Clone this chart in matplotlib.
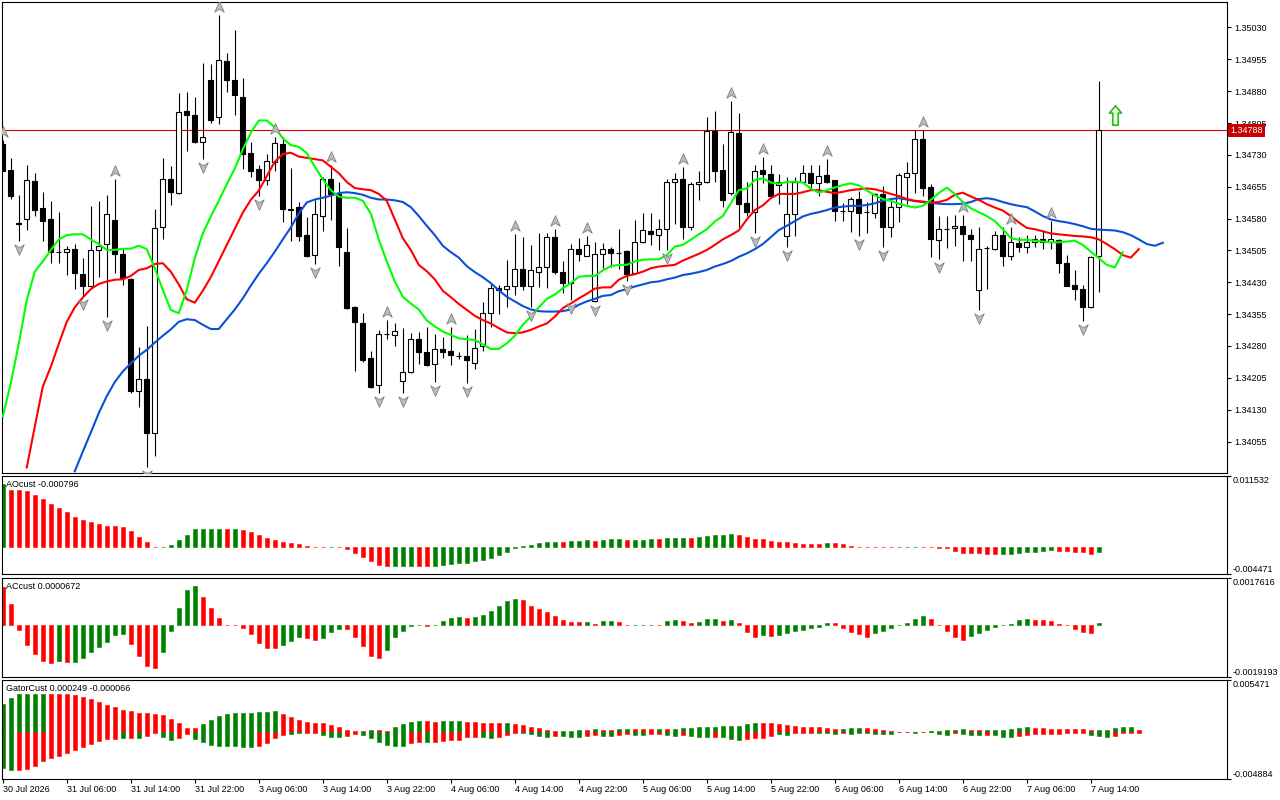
import numpy as np
import matplotlib
matplotlib.use('Agg')
import matplotlib.pyplot as plt
from matplotlib.path import Path
from matplotlib import transforms

plt.rcParams['font.family'] = ['Liberation Sans', 'DejaVu Sans']
plt.rcParams['font.size'] = 6.5

# ---- H1 candles, 30 Jul 22:00 -> 7 Aug 15:00 ----
opens = [1.34756, 1.34695, 1.34569, 1.34580, 1.34668, 1.34604, 1.34578, 1.34502, 1.34501, 1.34508,
         1.34449, 1.34422, 1.34505, 1.34520, 1.34577, 1.34496, 1.34438, 1.34175, 1.34203, 1.34075,
         1.34560, 1.34673, 1.34641, 1.34833, 1.34823, 1.34760, 1.34907, 1.34819, 1.34951, 1.34907,
         1.34866, 1.34734, 1.34696, 1.34670, 1.34714, 1.34756, 1.34602, 1.34607, 1.34542, 1.34495,
         1.34587, 1.34673, 1.34637, 1.34501, 1.34372, 1.34334, 1.34251, 1.34188, 1.34308, 1.34305,
         1.34198, 1.34218, 1.34296, 1.34265, 1.34237, 1.34273, 1.34268, 1.34257, 1.34256, 1.34240,
         1.34279, 1.34357, 1.34416, 1.34414, 1.34422, 1.34461, 1.34422, 1.34454, 1.34467, 1.34536,
         1.34455, 1.34429, 1.34509, 1.34493, 1.34385, 1.34496, 1.34508, 1.34500, 1.34504, 1.34451,
         1.34526, 1.34551, 1.34542, 1.34555, 1.34665, 1.34673, 1.34560, 1.34661, 1.34665, 1.34787,
         1.34695, 1.34640, 1.34782, 1.34616, 1.34595, 1.34695, 1.34685, 1.34658, 1.34540, 1.34590,
         1.34665, 1.34687, 1.34663, 1.34683, 1.34671, 1.34598, 1.34597, 1.34626, 1.34595, 1.34593,
         1.34637, 1.34559, 1.34608, 1.34679, 1.34688, 1.34767, 1.34654, 1.34530, 1.34555, 1.34557,
         1.34563, 1.34542, 1.34411, 1.34510, 1.34508, 1.34542, 1.34492, 1.34522, 1.34514, 1.34524,
         1.34531, 1.34524, 1.34530, 1.34475, 1.34424, 1.34414, 1.34371, 1.34491]
highs = [1.34765, 1.34722, 1.34636, 1.34706, 1.34688, 1.34642, 1.34622, 1.34596, 1.34516, 1.34520,
         1.34488, 1.34610, 1.34622, 1.34636, 1.34673, 1.34508, 1.34440, 1.34277, 1.34326, 1.34603,
         1.34723, 1.34704, 1.34876, 1.34878, 1.34866, 1.34947, 1.34944, 1.35060, 1.34971, 1.35024,
         1.34911, 1.34760, 1.34707, 1.34732, 1.34772, 1.34773, 1.34699, 1.34620, 1.34583, 1.34624,
         1.34677, 1.34706, 1.34665, 1.34557, 1.34373, 1.34357, 1.34268, 1.34317, 1.34341, 1.34334,
         1.34322, 1.34310, 1.34312, 1.34324, 1.34308, 1.34302, 1.34324, 1.34265, 1.34306, 1.34320,
         1.34383, 1.34428, 1.34424, 1.34483, 1.34543, 1.34536, 1.34518, 1.34547, 1.34547, 1.34555,
         1.34480, 1.34520, 1.34534, 1.34538, 1.34524, 1.34522, 1.34514, 1.34555, 1.34505, 1.34577,
         1.34593, 1.34593, 1.34578, 1.34673, 1.34687, 1.34701, 1.34667, 1.34693, 1.34819, 1.34834,
         1.34756, 1.34857, 1.34828, 1.34667, 1.34705, 1.34726, 1.34705, 1.34685, 1.34679, 1.34679,
         1.34706, 1.34706, 1.34706, 1.34720, 1.34672, 1.34616, 1.34630, 1.34645, 1.34620, 1.34641,
         1.34657, 1.34626, 1.34687, 1.34713, 1.34789, 1.34789, 1.34661, 1.34585, 1.34585, 1.34589,
         1.34589, 1.34555, 1.34559, 1.34516, 1.34551, 1.34561, 1.34559, 1.34536, 1.34542, 1.34542,
         1.34553, 1.34575, 1.34531, 1.34495, 1.34459, 1.34424, 1.34493, 1.34903]
lows = [1.34691, 1.34626, 1.34528, 1.34553, 1.34587, 1.34528, 1.34476, 1.34475, 1.34447, 1.34415,
        1.34398, 1.34420, 1.34443, 1.34349, 1.34453, 1.34424, 1.34169, 1.34136, 1.33996, 1.34020,
        1.34533, 1.34611, 1.34639, 1.34740, 1.34759, 1.34721, 1.34805, 1.34803, 1.34877, 1.34823,
        1.34696, 1.34679, 1.34632, 1.34659, 1.34691, 1.34571, 1.34527, 1.34528, 1.34489, 1.34473,
        1.34550, 1.34577, 1.34469, 1.34367, 1.34222, 1.34243, 1.34182, 1.34169, 1.34297, 1.34279,
        1.34169, 1.34217, 1.34238, 1.34232, 1.34196, 1.34251, 1.34235, 1.34249, 1.34192, 1.34225,
        1.34268, 1.34324, 1.34356, 1.34371, 1.34399, 1.34412, 1.34371, 1.34418, 1.34416, 1.34450,
        1.34404, 1.34389, 1.34479, 1.34492, 1.34384, 1.34463, 1.34467, 1.34461, 1.34433, 1.34449,
        1.34523, 1.34518, 1.34506, 1.34506, 1.34567, 1.34531, 1.34553, 1.34624, 1.34664, 1.34665,
        1.34608, 1.34636, 1.34561, 1.34587, 1.34547, 1.34663, 1.34631, 1.34614, 1.34514, 1.34538,
        1.34663, 1.34652, 1.34632, 1.34663, 1.34575, 1.34575, 1.34548, 1.34540, 1.34546, 1.34581,
        1.34514, 1.34536, 1.34573, 1.34615, 1.34641, 1.34632, 1.34489, 1.34484, 1.34510, 1.34516,
        1.34481, 1.34479, 1.34364, 1.34414, 1.34507, 1.34469, 1.34483, 1.34502, 1.34498, 1.34514,
        1.34508, 1.34508, 1.34451, 1.34421, 1.34389, 1.34338, 1.34369, 1.34408]
closes = [1.34693, 1.34634, 1.34568, 1.34670, 1.34601, 1.34575, 1.34501, 1.34502, 1.34508, 1.34451,
          1.34422, 1.34505, 1.34516, 1.34590, 1.34496, 1.34440, 1.34175, 1.34202, 1.34076, 1.34557,
          1.34673, 1.34642, 1.34830, 1.34823, 1.34761, 1.34772, 1.34813, 1.34953, 1.34906, 1.34870,
          1.34731, 1.34693, 1.34670, 1.34715, 1.34757, 1.34602, 1.34601, 1.34540, 1.34492, 1.34590,
          1.34673, 1.34637, 1.34514, 1.34370, 1.34336, 1.34247, 1.34184, 1.34308, 1.34308, 1.34316,
          1.34218, 1.34296, 1.34265, 1.34235, 1.34272, 1.34267, 1.34258, 1.34257, 1.34246, 1.34276,
          1.34357, 1.34416, 1.34412, 1.34422, 1.34461, 1.34422, 1.34458, 1.34467, 1.34536, 1.34455,
          1.34429, 1.34508, 1.34496, 1.34517, 1.34496, 1.34508, 1.34498, 1.34500, 1.34449, 1.34524,
          1.34553, 1.34543, 1.34555, 1.34666, 1.34673, 1.34559, 1.34661, 1.34666, 1.34787, 1.34693,
          1.34623, 1.34783, 1.34614, 1.34595, 1.34693, 1.34685, 1.34632, 1.34667, 1.34590, 1.34666,
          1.34687, 1.34663, 1.34681, 1.34667, 1.34597, 1.34598, 1.34626, 1.34593, 1.34595, 1.34637,
          1.34559, 1.34607, 1.34683, 1.34687, 1.34767, 1.34653, 1.34531, 1.34555, 1.34555, 1.34563,
          1.34543, 1.34533, 1.34508, 1.34510, 1.34542, 1.34492, 1.34524, 1.34514, 1.34524, 1.34531,
          1.34524, 1.34531, 1.34475, 1.34422, 1.34414, 1.34371, 1.34489, 1.34788]

date_labels = ["30 Jul 2026", "31 Jul 06:00", "31 Jul 14:00", "31 Jul 22:00", "3 Aug 06:00",
               "3 Aug 14:00", "3 Aug 22:00", "4 Aug 06:00", "4 Aug 14:00", "4 Aug 22:00",
               "5 Aug 06:00", "5 Aug 14:00", "5 Aug 22:00", "6 Aug 06:00", "6 Aug 14:00",
               "6 Aug 22:00", "7 Aug 06:00", "7 Aug 14:00"]
bars_per_label = 8

# ---- alligator lines (already shifted forward) ----
lips = [1.34114, 1.34192, 1.34286, 1.34388, 1.34455, 1.34479, 1.34506, 1.34531, 1.34541, 1.34543,
        1.34543, 1.34531, 1.34520, 1.34506, 1.34506, 1.34509, 1.34509, 1.34516, 1.34508, 1.34463,
        1.34412, 1.34365, 1.34357, 1.34412, 1.34487, 1.34545, 1.34585, 1.34622, 1.34661, 1.34698,
        1.34743, 1.34782, 1.34811, 1.34811, 1.34795, 1.34769, 1.34753, 1.34749, 1.34734, 1.34702,
        1.34673, 1.34647, 1.34632, 1.34629, 1.34629, 1.34622, 1.34592, 1.34531, 1.34479, 1.34432,
        1.34396, 1.34380, 1.34366, 1.34340, 1.34326, 1.34314, 1.34306, 1.34298, 1.34296, 1.34294,
        1.34284, 1.34273, 1.34273, 1.34286, 1.34304, 1.34330, 1.34349, 1.34371, 1.34391, 1.34401,
        1.34416, 1.34428, 1.34443, 1.34445, 1.34445, 1.34458, 1.34468, 1.34471, 1.34471, 1.34479,
        1.34483, 1.34484, 1.34484, 1.34494, 1.34514, 1.34518, 1.34530, 1.34543, 1.34555, 1.34573,
        1.34586, 1.34616, 1.34647, 1.34651, 1.34671, 1.34675, 1.34665, 1.34662, 1.34666, 1.34667,
        1.34665, 1.34651, 1.34641, 1.34647, 1.34653, 1.34659, 1.34663, 1.34658, 1.34646, 1.34635,
        1.34626, 1.34622, 1.34615, 1.34610, 1.34606, 1.34610, 1.34624, 1.34640, 1.34653, 1.34638,
        1.34619, 1.34604, 1.34595, 1.34586, 1.34574, 1.34555, 1.34534, 1.34530, 1.34530, 1.34528,
        1.34526, 1.34524, 1.34524, 1.34526, 1.34528, 1.34518, 1.34502, 1.34487, 1.34471, 1.34465,
        1.34501]
teeth_start = 3
teeth = [1.33994, 1.34090, 1.34184, 1.34231, 1.34285, 1.34337, 1.34371, 1.34394, 1.34414, 1.34426,
         1.34432, 1.34436, 1.34437, 1.34445, 1.34459, 1.34463, 1.34473, 1.34475, 1.34455, 1.34425,
         1.34390, 1.34382, 1.34410, 1.34442, 1.34480, 1.34518, 1.34556, 1.34594, 1.34624, 1.34646,
         1.34680, 1.34714, 1.34732, 1.34735, 1.34726, 1.34723, 1.34720, 1.34717, 1.34702, 1.34687,
         1.34666, 1.34652, 1.34649, 1.34647, 1.34638, 1.34622, 1.34578, 1.34534, 1.34506, 1.34471,
         1.34456, 1.34437, 1.34410, 1.34395, 1.34379, 1.34365, 1.34351, 1.34341, 1.34333, 1.34322,
         1.34312, 1.34310, 1.34312, 1.34318, 1.34326, 1.34333, 1.34349, 1.34369, 1.34380, 1.34392,
         1.34403, 1.34415, 1.34418, 1.34418, 1.34436, 1.34445, 1.34449, 1.34455, 1.34463, 1.34467,
         1.34469, 1.34471, 1.34481, 1.34489, 1.34497, 1.34506, 1.34518, 1.34531, 1.34541, 1.34552,
         1.34578, 1.34600, 1.34611, 1.34628, 1.34638, 1.34638, 1.34638, 1.34642, 1.34647, 1.34647,
         1.34643, 1.34640, 1.34643, 1.34647, 1.34649, 1.34651, 1.34649, 1.34644, 1.34638, 1.34633,
         1.34626, 1.34622, 1.34620, 1.34618, 1.34619, 1.34624, 1.34636, 1.34641, 1.34632, 1.34624,
         1.34614, 1.34606, 1.34599, 1.34586, 1.34571, 1.34558, 1.34555, 1.34550, 1.34545, 1.34543,
         1.34541, 1.34539, 1.34538, 1.34536, 1.34531, 1.34520, 1.34508, 1.34494, 1.34488, 1.34508]
jaw_start = 9
jaw = [1.33985, 1.34031, 1.34076, 1.34122, 1.34162, 1.34195, 1.34220, 1.34239, 1.34257, 1.34271,
       1.34288, 1.34304, 1.34319, 1.34337, 1.34343, 1.34341, 1.34330, 1.34320, 1.34320, 1.34343,
       1.34366, 1.34392, 1.34422, 1.34450, 1.34475, 1.34502, 1.34531, 1.34559, 1.34592, 1.34618,
       1.34625, 1.34629, 1.34634, 1.34640, 1.34642, 1.34640, 1.34636, 1.34629, 1.34625, 1.34625,
       1.34623, 1.34619, 1.34607, 1.34586, 1.34563, 1.34541, 1.34516, 1.34501, 1.34488, 1.34468,
       1.34454, 1.34442, 1.34428, 1.34411, 1.34396, 1.34385, 1.34374, 1.34366, 1.34362, 1.34361,
       1.34361, 1.34362, 1.34366, 1.34377, 1.34385, 1.34391, 1.34398, 1.34400, 1.34409, 1.34414,
       1.34420, 1.34425, 1.34430, 1.34432, 1.34437, 1.34441, 1.34447, 1.34450, 1.34454, 1.34459,
       1.34467, 1.34473, 1.34480, 1.34490, 1.34498, 1.34508, 1.34520, 1.34536, 1.34553, 1.34563,
       1.34574, 1.34585, 1.34591, 1.34595, 1.34600, 1.34606, 1.34608, 1.34610, 1.34610, 1.34612,
       1.34616, 1.34622, 1.34626, 1.34628, 1.34625, 1.34621, 1.34619, 1.34617, 1.34615, 1.34614,
       1.34614, 1.34615, 1.34619, 1.34626, 1.34628, 1.34625, 1.34619, 1.34614, 1.34610, 1.34607,
       1.34597, 1.34586, 1.34578, 1.34574, 1.34571, 1.34567, 1.34562, 1.34556, 1.34554, 1.34553,
       1.34552, 1.34548, 1.34541, 1.34531, 1.34520, 1.34516, 1.34523]

# fractal bars
frac_up = [0, 14, 27, 34, 41, 48, 56, 64, 69, 73, 85, 91, 95, 103, 115, 120, 126, 131]
frac_dn = [2, 10, 13, 18, 25, 32, 39, 47, 50, 54, 58, 66, 71, 74, 78, 83, 94, 98, 107, 110,
           117, 122, 135]

price_line = 1.34788
signal_bar = 139
signal_price = 1.34824

# ---- AO ----
ao = [0.01020, 0.00925, 0.00925, 0.00908, 0.00843, 0.00778, 0.00696, 0.00626, 0.00566, 0.00479,
      0.00441, 0.00403, 0.00370, 0.00337, 0.00336, 0.00321, 0.00250, 0.00158, 0.00076, 0.00004,
      0.00002, 0.00033, 0.00109, 0.00190, 0.00283, 0.00288, 0.00289, 0.00290, 0.00287, 0.00289,
      0.00267, 0.00239, 0.00190, 0.00141, 0.00109, 0.00076, 0.00060, 0.00044, 0.00011, 0.00003,
      -0.00004, -0.00003, -0.00009, -0.00038, -0.00098, -0.00169, -0.00234, -0.00299, -0.00310, -0.00309,
      -0.00308, -0.00307, -0.00310, -0.00311, -0.00308, -0.00294, -0.00277, -0.00267, -0.00261, -0.00234,
      -0.00212, -0.00180, -0.00136, -0.00082, -0.00027, 0.00011, 0.00033, 0.00060, 0.00076, 0.00077,
      0.00075, 0.00092, 0.00098, 0.00109, 0.00092, 0.00109, 0.00131, 0.00132, 0.00109, 0.00110,
      0.00111, 0.00131, 0.00130, 0.00147, 0.00148, 0.00149, 0.00146, 0.00163, 0.00174, 0.00190,
      0.00191, 0.00207, 0.00190, 0.00158, 0.00125, 0.00124, 0.00092, 0.00076, 0.00075, 0.00060,
      0.00044, 0.00043, 0.00042, 0.00060, 0.00058, 0.00044, 0.00010, 0.00005, 0.00001, -0.00003,
      -0.00006, -0.00009, -0.00007, -0.00005, -0.00002, -0.00004, -0.00008, -0.00012, -0.00020, -0.00071,
      -0.00103, -0.00104, -0.00105, -0.00120, -0.00121, -0.00119, -0.00114, -0.00098, -0.00087, -0.00082,
      -0.00071, -0.00049, -0.00071, -0.00072, -0.00087, -0.00088, -0.00120, -0.000796]
ao_col = ("grrrrrrrrr rrrrrrrrrr rgggggggrg rrrrrrrrrr rgrrrrrrrg ggrrgggggg gggggggggg "
          "rgggrgggrg ggrgggrggg ggrrrrrrrr rrrgrrrrrr rrgggrrrrr rrrrrggggg ggrrrrrg")
ao_lim = (-0.004471, 0.011532)

# ---- AC ----
ac = [0.00142, 0.00078, -0.00019, -0.00074, -0.00108, -0.00134, -0.00141, -0.00134, -0.00138, -0.00137,
      -0.00123, -0.00100, -0.00082, -0.00063, -0.00036, -0.00032, -0.00071, -0.00115, -0.00152, -0.00160,
      -0.00100, -0.00022, 0.00062, 0.00129, 0.00144, 0.00103, 0.00062, 0.00025, 0.00002, 0.00001,
      -0.00011, -0.00033, -0.00067, -0.00085, -0.00086, -0.00074, -0.00058, -0.00045, -0.00048, -0.00056,
      -0.00047, -0.00026, -0.00015, -0.00016, -0.00045, -0.00078, -0.00115, -0.00123, -0.00093, -0.00045,
      -0.00022, -0.00002, -0.00001, -0.00002, 0.00000, 0.00015, 0.00026, 0.00030, 0.00026, 0.00030,
      0.00037, 0.00052, 0.00071, 0.00089, 0.00097, 0.00093, 0.00071, 0.00059, 0.00048, 0.00033,
      0.00019, 0.00011, 0.00010, 0.00011, 0.00004, 0.00015, 0.00016, 0.00011, -0.00001, 0.00000,
      0.00001, 0.00002, 0.00001, 0.00015, 0.00019, 0.00015, 0.00007, 0.00011, 0.00022, 0.00023,
      0.00015, 0.00019, 0.00007, -0.00025, -0.00045, -0.00037, -0.00041, -0.00037, -0.00028, -0.00022,
      -0.00019, -0.00011, -0.00007, 0.00007, 0.00006, -0.00011, -0.00026, -0.00033, -0.00045, -0.00030,
      -0.00022, -0.00011, -0.00001, 0.00007, 0.00022, 0.00033, 0.00022, -0.00001, -0.00022, -0.00045,
      -0.00056, -0.00041, -0.00030, -0.00019, -0.00007, -0.00001, 0.00004, 0.00019, 0.00022, 0.00019,
      0.00018, 0.00015, 0.00004, -0.00001, -0.00015, -0.00026, -0.00030, 0.0000672]
ac_col = ("rrrrrrrgrg ggggggrrrr gggggrrrrr rrrrrgggrr gggrrrrrgg gggrggggrg gggggrrrrr "
          "rrrgrggrrg ggrggrrggg rgrrrgrggg ggggrrrrrg ggggggrrrr rggggggggr rrrrrrrg")
ac_lim = (-0.0019193, 0.0017616)

# ---- Gator (upper / lower), runs 5 bars past the last candle ----
gator_up = [0.00296, 0.00356, 0.00398, 0.00399, 0.00400, 0.00401, 0.00399, 0.00397, 0.00395, 0.00387,
            0.00370, 0.00345, 0.00317, 0.00282, 0.00262, 0.00230, 0.00220, 0.00202, 0.00201, 0.00192,
            0.00178, 0.00136, 0.00094, 0.00042, 0.00041, 0.00084, 0.00126, 0.00167, 0.00188, 0.00202,
            0.00203, 0.00204, 0.00213, 0.00214, 0.00215, 0.00188, 0.00157, 0.00126, 0.00105, 0.00094,
            0.00093, 0.00077, 0.00052, 0.00021, 0.00010, 0.00009, 0.00021, 0.00020, 0.00010, 0.00052,
            0.00084, 0.00108, 0.00115, 0.00113, 0.00108, 0.00110, 0.00112, 0.00115, 0.00105, 0.00104,
            0.00094, 0.00093, 0.00092, 0.00094, 0.00084, 0.00073, 0.00052, 0.00042, 0.00021, 0.00010,
            0.00011, 0.00012, 0.00021, 0.00020, 0.00031, 0.00021, 0.00020, 0.00031, 0.00032, 0.00031,
            0.00030, 0.00029, 0.00031, 0.00030, 0.00031, 0.00042, 0.00043, 0.00052, 0.00053, 0.00054,
            0.00063, 0.00064, 0.00065, 0.00084, 0.00094, 0.00093, 0.00092, 0.00084, 0.00073, 0.00063,
            0.00052, 0.00051, 0.00050, 0.00042, 0.00031, 0.00032, 0.00042, 0.00043, 0.00041, 0.00031,
            0.00021, 0.00010, 0.00004, 0.00003, 0.00004, 0.00003, 0.00010, 0.00013, 0.00017, 0.00021,
            0.00031, 0.00021, 0.00017, 0.00021, 0.00022, 0.00023, 0.00031, 0.00042, 0.00052, 0.00042,
            0.00041, 0.00031, 0.00030, 0.00029, 0.00028, 0.00027, 0.00021, 0.00022, 0.00023, 0.00042,
            0.00052, 0.00053, 0.000249]
gator_dn = [-0.00373, -0.00394, -0.00393, -0.00384, -0.00356, -0.00300, -0.00272, -0.00251, -0.00223, -0.00188,
            -0.00157, -0.00126, -0.00094, -0.00073, -0.00072, -0.00066, -0.00065, -0.00063, -0.00042, -0.00010,
            -0.00049, -0.00080, -0.00063, -0.00017, -0.00073, -0.00101, -0.00133, -0.00146, -0.00147, -0.00148,
            -0.00153, -0.00157, -0.00146, -0.00115, -0.00063, -0.00028, -0.00017, -0.00010, -0.00007, -0.00006,
            -0.00028, -0.00052, -0.00053, -0.00038, -0.00021, -0.00028, -0.00063, -0.00101, -0.00133, -0.00146,
            -0.00147, -0.00115, -0.00105, -0.00106, -0.00105, -0.00091, -0.00080, -0.00079, -0.00052, -0.00051,
            -0.00053, -0.00063, -0.00052, -0.00028, -0.00007, -0.00008, -0.00017, -0.00042, -0.00052, -0.00042,
            -0.00043, -0.00052, -0.00053, -0.00042, -0.00031, -0.00042, -0.00043, -0.00031, -0.00021, -0.00031,
            -0.00032, -0.00017, -0.00016, -0.00031, -0.00042, -0.00031, -0.00042, -0.00052, -0.00053, -0.00052,
            -0.00054, -0.00073, -0.00080, -0.00070, -0.00063, -0.00062, -0.00042, -0.00021, -0.00031, -0.00010,
            -0.00010, -0.00010, -0.00011, -0.00012, -0.00017, -0.00010, -0.00021, -0.00010, -0.00011, -0.00021,
            -0.00022, -0.00023, -0.00003, -0.00003, -0.00010, -0.00004, -0.00005, -0.00017, -0.00028, -0.00007,
            -0.00017, -0.00028, -0.00029, -0.00028, -0.00029, -0.00052, -0.00053, -0.00038, -0.00028, -0.00021,
            -0.00020, -0.00019, -0.00017, -0.00010, -0.00009, -0.00008, -0.00031, -0.00042, -0.00052, -0.00042,
            -0.00010, -0.00007, -0.000066]
gator_up_col = ("ggggggrrrr rrrrrrrrrr rrrrrggggg gggggrrrrr rrrrrrgrrg gggrrgggrr rrrgrrrrrr "
                "gggrgrrggr rrgrgggggg gggggrrrrr rrrrrgggrr rrrrgrgggg grrggggggr rrrrrrrggg ggr")
gator_dn_col = ("ggrrrrrrrr rrrrrgrgrr ggrrgggggg ggrrrrggrr gggrrggggg grrgrrrrrr ggrrrggggr "
                "gggrrggrrg grrggrgggr gggrrrrggr rrgggrgggg ggrrgrgggr gggrgggrrr rrrrrrgggr rrr")
gator_lim = (-0.004884, 0.005471)

GREEN = '#008000'
RED = '#ff0000'


def colors(s):
    return [GREEN if c == 'g' else RED for c in s.replace(' ', '')]


x = np.arange(len(opens))
opens, highs, lows, closes = map(np.array, (opens, highs, lows, closes))
xlim = (-0.06, 153.06)

fig = plt.figure(figsize=(12.8, 8), dpi=100)


def panel(left, top, right, bottom):
    # rectangle given in pixels of the 1280x800 canvas
    return fig.add_axes([left / 1280, 1 - bottom / 800, (right - left) / 1280, (bottom - top) / 800])


ax = panel(2.3, 2.3, 1227.3, 472.7)
ax_ao = panel(2.3, 476.0, 1227.3, 574.3)
ax_ac = panel(2.3, 577.7, 1227.3, 676.7)
ax_gt = panel(2.3, 679.7, 1227.3, 778.7)

for a in (ax, ax_ao, ax_ac, ax_gt):
    a.set_xlim(*xlim)
    for sp in a.spines.values():
        sp.set_linewidth(0.8)
        sp.set_color('black')
    a.yaxis.tick_right()
    a.tick_params(axis='y', direction='out', length=3, width=0.8, pad=2, labelsize=6.5)
    a.tick_params(axis='x', direction='out', length=3, width=0.8)

# ---- candles ----
bull = closes >= opens
ax.vlines(x, lows, highs, color='black', lw=0.8, zorder=3)
ax.bar(x, np.abs(closes - opens), bottom=np.minimum(opens, closes), width=0.6,
       color=np.where(bull, 'white', 'black'), edgecolor='black', linewidth=0.8, zorder=4)

# ---- alligator ----
ax.plot(np.arange(jaw_start, jaw_start + len(jaw)), jaw, color='#0a50d8', lw=1.5, zorder=5)
ax.plot(np.arange(teeth_start, teeth_start + len(teeth)), teeth, color='#ff0000', lw=1.5, zorder=5)
ax.plot(np.arange(len(lips)), lips, color='#00ff00', lw=1.5, zorder=5)

# ---- fractals ----
arrow_up = Path([(0, 1), (0.8, -0.8), (0, -0.3), (-0.8, -0.8), (0, 1)],
                [Path.MOVETO, Path.LINETO, Path.LINETO, Path.LINETO, Path.CLOSEPOLY])
arrow_dn = Path([(0, -1), (0.8, 0.8), (0, 0.3), (-0.8, 0.8), (0, -1)],
                [Path.MOVETO, Path.LINETO, Path.LINETO, Path.LINETO, Path.CLOSEPOLY])
tr_up = transforms.offset_copy(ax.transData, fig=fig, y=8, units='dots')
tr_dn = transforms.offset_copy(ax.transData, fig=fig, y=-8, units='dots')
ax.plot(frac_up, highs[frac_up], ls='none', marker=arrow_up, ms=8.5, mfc='#bcbcbc',
        mec='#808080', mew=0.6, transform=tr_up, zorder=6)
ax.plot(frac_dn, lows[frac_dn], ls='none', marker=arrow_dn, ms=8.5, mfc='#bcbcbc',
        mec='#808080', mew=0.6, transform=tr_dn, zorder=6)

# ---- buy signal arrow ----
block_up = Path([(0, 1), (0.62, 0.25), (0.28, 0.25), (0.28, -1), (-0.28, -1), (-0.28, 0.25),
                 (-0.62, 0.25), (0, 1)],
                [Path.MOVETO] + [Path.LINETO] * 6 + [Path.CLOSEPOLY])
ax.plot([signal_bar], [signal_price], ls='none', marker=block_up, ms=14, mfc='#f6ffd8',
        mec='#22c022', mew=1.2, zorder=6)

# ---- current price line and label ----
ax.axhline(price_line, color='#d40000', lw=0.8, zorder=2)
lbl_tr = transforms.blended_transform_factory(ax.transAxes, ax.transData)
ax.text(1.0025, price_line, f'{price_line:.5f}', transform=lbl_tr, ha='left', va='center',
        color='white', fontsize=6.5, clip_on=False, zorder=20,
        bbox=dict(facecolor='#c80000', edgecolor='none', pad=1.4))

ax.set_ylim(1.339816, 1.350893)
yt = 1.34055 + 0.00075 * np.arange(14)
ax.set_yticks(yt)
ax.set_yticklabels([f'{v:.5f}' for v in yt])
ax.set_xticks([])

# ---- indicator windows ----
xa = np.arange(len(ao))
ax_ao.bar(xa, ao, width=0.5, color=colors(ao_col), edgecolor=colors(ao_col), linewidth=0.4)
ax_ac.bar(xa, ac, width=0.5, color=colors(ac_col), edgecolor=colors(ac_col), linewidth=0.4)
xg = np.arange(len(gator_up))
ax_gt.bar(xg, gator_up, width=0.5, color=colors(gator_up_col), edgecolor=colors(gator_up_col), linewidth=0.4)
ax_gt.bar(xg, gator_dn, width=0.5, color=colors(gator_dn_col), edgecolor=colors(gator_dn_col), linewidth=0.4)

sub = [(ax_ao, ao_lim, 'AOcust -0.000796', '{:.6f}'),
       (ax_ac, ac_lim, 'ACcust 0.0000672', '{:.7f}'),
       (ax_gt, gator_lim, 'GatorCust 0.000249 -0.000066', '{:.6f}')]
for a, lim, title, fmt in sub:
    a.set_ylim(*lim)
    a.set_yticks(list(lim))
    a.set_yticklabels([])
    a.text(1.0045, 1.0, fmt.format(lim[1]), transform=a.transAxes, ha='left', va='top',
           fontsize=6.5, clip_on=False)
    a.text(1.0045, 0.0, fmt.format(lim[0]), transform=a.transAxes, ha='left', va='bottom',
           fontsize=6.5, clip_on=False)
    a.text(0.003, 0.915, title, transform=a.transAxes, ha='left', va='center', fontsize=6.5)
    a.set_xticks([])

# date axis at the bottom
xt = np.arange(len(date_labels)) * bars_per_label
ax_gt.set_xticks(xt)
ax_gt.set_xticklabels(date_labels, ha='left', fontsize=6.5)
ax_gt.tick_params(axis='x', length=3, pad=1.5)

fig.savefig('out.png', dpi=100)
